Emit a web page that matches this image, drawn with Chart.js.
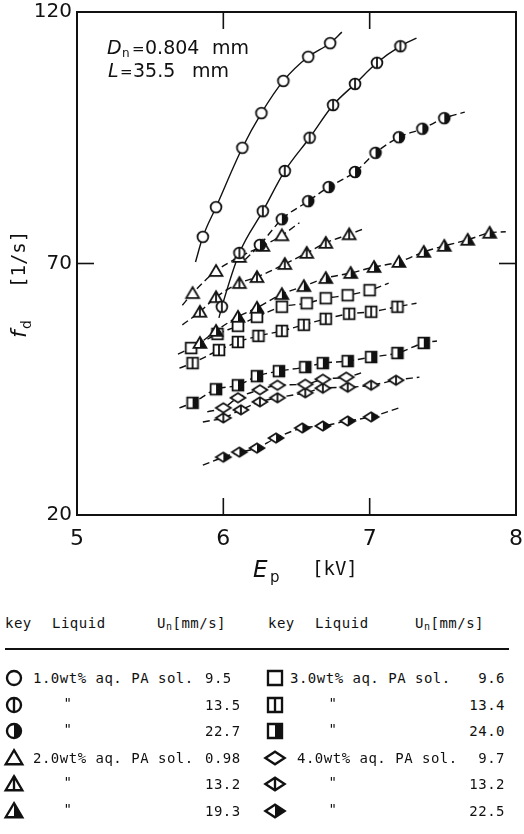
<!DOCTYPE html>
<html><head><meta charset="utf-8">
<script src="https://cdn.jsdelivr.net/npm/chart.js@4.4.1/dist/chart.umd.min.js"></script>
<style>
html,body{margin:0;padding:0;background:#fff;}
#wrap{position:relative;width:524px;height:834px;overflow:hidden;background:#fff;}
#chartBox{position:absolute;left:0;top:0;width:524px;height:600px;}
.m{position:absolute;white-space:pre;color:#111;font-family:"DejaVu Sans Mono",monospace;font-size:14px;line-height:16px;letter-spacing:0.5px;}
.m sub{font-size:10px;vertical-align:-2px;line-height:0;}
.sym{position:absolute;}
#rule{position:absolute;left:5px;top:648px;width:504px;height:2px;background:#111;}
</style></head><body>
<div id="wrap">
<div id="chartBox"><canvas id="c" width="524" height="600"></canvas></div>
<div id="rule"></div>
</div>
<script>
// ---------------- data ----------------
const xTickValues = [5, 6, 7, 8];
const yTickValues = [20, 70, 120];
const xInnerTicks = [6, 7];
const yInnerTicks = [70];

// 1.0wt% aq. PA sol.
const Ep_c95  = [5.86, 5.95, 6.13, 6.26, 6.41, 6.58, 6.73];
const fd_c95  = [75.3, 81.2, 93.0, 99.9, 106.3, 111.1, 113.8];
const fit_c95 = [[5.81, 70.3], [6.81, 116.0]];
const Ep_c135 = [5.99, 6.11, 6.27, 6.42, 6.59, 6.75, 6.90, 7.05, 7.21];
const fd_c135 = [61.4, 72.1, 80.4, 88.4, 95.0, 101.5, 105.7, 109.9, 113.2];
const fit_c135 = [[5.97, 59.2], [7.32, 114.8]];
const Ep_c227 = [6.25, 6.40, 6.58, 6.72, 6.90, 7.04, 7.20, 7.36, 7.51];
const fd_c227 = [73.7, 78.8, 82.4, 85.2, 88.2, 92.0, 95.1, 96.8, 98.9];
const fit_c227 = [[6.15, 70.8], [7.65, 100.1]];
// 2.0wt% aq. PA sol.
const Ep_t098 = [5.79, 5.95, 6.11, 6.27, 6.40];
const fd_t098 = [64.1, 68.5, 71.3, 73.5, 75.6];
const fit_t098 = [[5.72, 61.7], [6.52, 78.1]];
const Ep_t132 = [5.84, 5.95, 6.11, 6.23, 6.42, 6.57, 6.70, 6.86];
const fd_t132 = [60.4, 63.3, 66.1, 67.3, 69.9, 72.1, 74.1, 75.8];
const fit_t132 = [[5.72, 57.8], [6.96, 76.9]];
const Ep_t193 = [5.84, 5.95, 6.10, 6.23, 6.40, 6.55, 6.70, 6.87, 7.03, 7.20, 7.37, 7.51, 7.67, 7.82];
const fd_t193 = [54.2, 56.6, 59.4, 61.2, 63.9, 65.5, 67.1, 68.1, 69.3, 70.3, 72.3, 73.5, 74.7, 76.1];
const fit_t193 = [[5.74, 52.4], [7.93, 76.3]];
// 3.0wt% aq. PA sol.
const Ep_s96  = [5.78, 5.96, 6.10, 6.23, 6.40, 6.57, 6.70, 6.85, 7.00];
const fd_s96  = [53.2, 56.0, 57.6, 59.4, 61.4, 62.1, 63.1, 63.7, 64.7];
const fit_s96 = [[5.69, 52.0], [7.13, 66.1]];
const Ep_s134 = [5.79, 5.97, 6.10, 6.24, 6.40, 6.55, 6.70, 6.86, 7.01, 7.19];
const fd_s134 = [50.2, 52.8, 54.4, 55.6, 56.6, 57.8, 59.0, 60.0, 60.4, 61.4];
const fit_s134 = [[5.70, 49.2], [7.32, 62.1]];
const Ep_s240 = [5.79, 5.95, 6.10, 6.23, 6.38, 6.56, 6.68, 6.85, 7.01, 7.19, 7.37];
const fd_s240 = [42.3, 45.0, 45.8, 47.6, 48.6, 49.4, 50.2, 50.6, 51.4, 52.2, 54.2];
const fit_s240 = [[5.70, 41.3], [7.46, 54.6]];
// 4.0wt% aq. PA sol.
const Ep_d97  = [6.00, 6.10, 6.25, 6.37, 6.56, 6.68, 6.84];
const fd_d97  = [41.3, 43.3, 44.9, 45.8, 46.0, 47.0, 47.4];
const fit_d97 = [[5.89, 40.5], [6.96, 48.4]];
const Ep_d132 = [6.00, 6.12, 6.25, 6.37, 6.56, 6.68, 6.85, 7.01, 7.18];
const fd_d132 = [39.3, 40.9, 42.5, 43.3, 44.3, 45.2, 45.4, 45.8, 46.8];
const fit_d132 = [[5.86, 38.5], [7.34, 47.4]];
const Ep_d225 = [6.00, 6.11, 6.23, 6.36, 6.54, 6.68, 6.85, 7.01];
const fd_d225 = [31.5, 32.5, 33.3, 35.3, 37.3, 37.7, 38.7, 39.5];
const fit_d225 = [[5.86, 29.9], [7.20, 41.3]];

// legend table
const legendLiquid = ['1.0wt% aq. PA sol.', '"', '"', '2.0wt% aq. PA sol.', '"', '"',
                      '3.0wt% aq. PA sol.', '"', '"', '4.0wt% aq. PA sol.', '"', '"'];
const legendU = ['9.5', '13.5', '22.7', '0.98', '13.2', '19.3', '9.6', '13.4', '24.0', '9.7', '13.2', '22.5'];

// ---------------- series assembly ----------------
const series = [
  {x: Ep_c95,  y: fd_c95,  fit: fit_c95,  shape: 'circle', mod: '',     dash: []},
  {x: Ep_c135, y: fd_c135, fit: fit_c135, shape: 'circle', mod: 'bar',  dash: []},
  {x: Ep_c227, y: fd_c227, fit: fit_c227, shape: 'circle', mod: 'half', dash: [7, 4]},
  {x: Ep_t098, y: fd_t098, fit: fit_t098, shape: 'tri',    mod: '',     dash: [7, 4]},
  {x: Ep_t132, y: fd_t132, fit: fit_t132, shape: 'tri',    mod: 'bar',  dash: [7, 4]},
  {x: Ep_t193, y: fd_t193, fit: fit_t193, shape: 'tri',    mod: 'half', dash: [7, 4]},
  {x: Ep_s96,  y: fd_s96,  fit: fit_s96,  shape: 'sq',     mod: '',     dash: [7, 4]},
  {x: Ep_s134, y: fd_s134, fit: fit_s134, shape: 'sq',     mod: 'bar',  dash: [7, 4]},
  {x: Ep_s240, y: fd_s240, fit: fit_s240, shape: 'sq',     mod: 'half', dash: [7, 4]},
  {x: Ep_d97,  y: fd_d97,  fit: fit_d97,  shape: 'dia',    mod: '',     dash: [7, 4]},
  {x: Ep_d132, y: fd_d132, fit: fit_d132, shape: 'dia',    mod: 'bar',  dash: [7, 4]},
  {x: Ep_d225, y: fd_d225, fit: fit_d225, shape: 'dia',    mod: 'half', dash: [7, 4]},
];

const INK = '#111';
function marker(shape, mod, scale) {
  const s = Math.ceil(20 * scale);
  const c = document.createElement('canvas');
  c.width = s; c.height = s;
  const g = c.getContext('2d');
  g.translate(s / 2, s / 2);
  g.scale(scale, scale);
  g.lineWidth = 1.8; g.strokeStyle = INK; g.fillStyle = '#fff'; g.lineJoin = 'miter';
  let top, bot;
  const path = () => {
    g.beginPath();
    if (shape === 'circle') { g.arc(0, 0, 5.4, 0, Math.PI * 2); top = -5.4; bot = 5.4; }
    else if (shape === 'tri') { g.moveTo(0, -6); g.lineTo(6.4, 4.8); g.lineTo(-6.4, 4.8); g.closePath(); top = -6; bot = 4.8; }
    else if (shape === 'sq') { g.rect(-5.4, -5.4, 10.8, 10.8); top = -5.4; bot = 5.4; }
    else { g.moveTo(-7.4, 0); g.lineTo(0, -4.8); g.lineTo(7.4, 0); g.lineTo(0, 4.8); g.closePath(); top = -4.8; bot = 4.8; }
  };
  path(); g.fill();
  if (mod === 'half') { g.save(); path(); g.clip(); g.fillStyle = INK; g.fillRect(0, -10, 10, 20); g.restore(); }
  path(); g.stroke();
  if (mod === 'bar') { g.beginPath(); g.moveTo(0, top); g.lineTo(0, bot); g.stroke(); }
  return c;
}

const lineSets = [], markSets = [];
series.forEach(s => {
  const pts = s.x.map((v, i) => ({x: v, y: s.y[i]}));
  lineSets.push({
    data: [{x: s.fit[0][0], y: s.fit[0][1]}, ...pts, {x: s.fit[1][0], y: s.fit[1][1]}],
    showLine: true, pointRadius: 0, borderColor: INK, borderWidth: 1.4, borderDash: s.dash,
    cubicInterpolationMode: 'monotone', order: 2
  });
  markSets.push({
    data: pts, showLine: false, pointStyle: marker(s.shape, s.mod, 1), pointRadius: 6,
    order: 1
  });
});

const ln = (g, a, b, c, d) => { g.beginPath(); g.moveTo(a, b); g.lineTo(c, d); g.stroke(); };

const framePlugin = {
  id: 'frame',
  afterDraw(chart) {
    const g = chart.ctx, a = chart.chartArea, x = chart.scales.x, y = chart.scales.y;
    g.save();
    g.strokeStyle = INK; g.lineWidth = 2;
    g.strokeRect(a.left, a.top, a.right - a.left, a.bottom - a.top);
    g.lineWidth = 1.6;
    const L = 17;
    xInnerTicks.forEach(v => { const p = x.getPixelForValue(v); ln(g, p, a.bottom, p, a.bottom - L); ln(g, p, a.top, p, a.top + L); });
    yInnerTicks.forEach(v => { const p = y.getPixelForValue(v); ln(g, a.left, p, a.left + L, p); ln(g, a.right, p, a.right - L, p); });
    // texts
    g.fillStyle = INK; g.textBaseline = 'alphabetic'; g.textAlign = 'left';
    const F = (st, sz, fam) => { g.font = st + ' ' + sz + 'px ' + (fam || '"DejaVu Sans"'); };
    // annotation
    F('italic', 19); g.fillText('D', 107, 54);
    F('', 12); g.fillText('n', 122, 57);
    F('', 15); g.fillText('=', 132, 54);
    F('', 19); g.fillText('0.804', 145, 54); g.fillText('mm', 212, 54);
    F('italic', 19); g.fillText('L', 108, 77);
    F('', 15); g.fillText('=', 120, 77);
    F('', 19); g.fillText('35.5', 133, 77); g.fillText('mm', 192, 77);
    // x title
    F('italic', 23); g.fillText('E', 253, 577);
    F('', 15); g.fillText('p', 270, 582);
    F('', 19, '"DejaVu Sans Mono"'); g.fillText('[kV]', 312, 575);
    // y title (rotated)
    g.save(); g.translate(26, 338); g.rotate(-Math.PI / 2);
    F('italic', 22); g.fillText('f', 0, 0);
    F('', 14); g.fillText('d', 9, 5);
    F('', 19, '"DejaVu Sans Mono"'); g.fillText('[1/s]', 50, -1);
    g.restore();
    g.restore();
  }
};

new Chart(document.getElementById('c'), {
  type: 'scatter',
  data: {datasets: [...markSets, ...lineSets]},
  options: {
    responsive: false, animation: false, devicePixelRatio: 1,
    layout: {padding: {top: 12, right: 8, left: 0, bottom: 0}},
    plugins: {legend: {display: false}, tooltip: {enabled: false}},
    scales: {
      x: {type: 'linear', min: 5, max: 8,
          afterBuildTicks: s => { s.ticks = xTickValues.map(v => ({value: v})); },
          grid: {display: false, drawTicks: false}, border: {display: false},
          ticks: {font: {family: 'DejaVu Sans', size: 22}, color: INK, padding: 11, maxRotation: 0},
          afterFit: s => { s.height = 85; s.paddingLeft = 0; s.paddingRight = 0; }},
      y: {type: 'linear', min: 20, max: 120,
          afterBuildTicks: s => { s.ticks = yTickValues.map(v => ({value: v})); },
          grid: {display: false, drawTicks: false}, border: {display: false},
          ticks: {font: {family: 'DejaVu Sans', size: 20}, color: INK, padding: 5},
          afterFit: s => { s.width = 77; s.paddingTop = 0; s.paddingBottom = 0; }}
    }
  },
  plugins: [framePlugin]
});

// legend table
const wrap = document.getElementById('wrap');
function txt(html, left, top, align) {
  const d = document.createElement('div');
  d.className = 'm'; d.innerHTML = html; d.style.top = top + 'px';
  if (align === 'right') { d.style.right = (524 - left) + 'px'; } else { d.style.left = left + 'px'; }
  if (align === 'center') { d.style.transform = 'translateX(-50%)'; }
  wrap.appendChild(d);
}
txt('key', 5, 615); txt('Liquid', 52, 615); txt('U<sub>n</sub>[mm/s]', 157, 615);
txt('key', 268, 615); txt('Liquid', 315, 615); txt('U<sub>n</sub>[mm/s]', 415, 615);
const rowY0 = 678, rowDY = 26.5;
series.forEach((s, i) => {
  const col = i < 6 ? 0 : 1, r = i % 6, cy = rowY0 + r * rowDY;
  const cv = marker(s.shape, s.mod, 1.3);
  cv.className = 'sym';
  cv.style.left = ((col ? 275 : 14) - cv.width / 2) + 'px';
  cv.style.top = (cy - cv.height / 2) + 'px';
  wrap.appendChild(cv);
  const liq = legendLiquid[i];
  if (liq === '"') txt('"', col ? 333 : 68, cy - 10, 'center');
  else txt(liq, col ? (s.shape === 'dia' ? 297 : 290) : 33, cy - 8);
  if (col) txt(legendU[i], 505, cy - 8, 'right');
  else txt(legendU[i], 205, cy - 8);
});
</script>
</body></html>
